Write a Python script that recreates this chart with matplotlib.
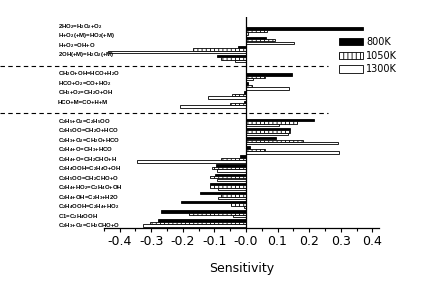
import numpy as np
import matplotlib
matplotlib.use('Agg')
import matplotlib.pyplot as plt
import matplotlib.transforms as mtransforms
from matplotlib.ticker import MultipleLocator

plt.rcParams['mathtext.fontset'] = 'custom'
plt.rcParams['mathtext.rm'] = 'Liberation Sans:bold'
plt.rcParams['mathtext.it'] = 'Liberation Sans:bold'
plt.rcParams['mathtext.default'] = 'rm'
plt.rcParams['hatch.linewidth'] = 0.6

# reactions, top to bottom, in three groups
group1 = ['2HO$_2$=H$_2$O$_2$+O$_2$', 'H+O$_2$(+M)=HO$_2$(+M)',
          'H+O$_2$=OH+O', '2OH(+M)=H$_2$O$_2$(+M)']
group2 = ['CH$_2$O+OH=HCO+H$_2$O', 'HCO+O$_2$=CO+HO$_2$',
          'CH$_3$+O$_2$=CH$_2$O+OH', 'HCO+M=CO+H+M']
group3 = ['C$_2$H$_5$+O$_2$=C$_2$H$_5$OO', 'C$_2$H$_5$OO=CH$_2$O+HCO',
          'C$_2$H$_3$+O$_2$=CH$_2$O+HCO', 'C$_2$H$_4$+O=CH$_3$+HCO',
          'C$_2$H$_4$+O=CH$_2$CHO+H', 'C$_2$H$_4$OOH=C$_2$H$_4$O+OH',
          'C$_2$H$_5$OO=CH$_2$CHO+O', 'C$_2$H$_4$+HO$_2$=C$_2$H$_4$O+OH',
          'C$_2$H$_4$+OH=C$_2$H$_3$+H2O', 'C$_2$H$_4$OOH=C$_2$H$_4$+HO$_2$',
          'C1=C$_2$H$_4$OOH', 'C$_2$H$_3$+O$_2$=CH$_2$CHO+O']

s800 = [0.369, 0.065, -0.024, -0.090,
        0.147, 0.005, -0.005, -0.005,
        0.215, 0.139, 0.094, 0.013, -0.018, -0.095, -0.098, -0.114,
        -0.145, -0.205, -0.270, -0.277]
s1050 = [0.067, 0.093, -0.167, -0.080,
         0.060, 0.020, -0.045, -0.050,
         0.162, 0.141, 0.179, 0.060, -0.079, -0.108, -0.114, -0.114,
         -0.080, -0.047, -0.180, -0.304]
s1300 = [0.005, 0.152, -0.436, -0.033,
         0.023, 0.137, -0.121, -0.210,
         0.105, 0.132, 0.292, 0.295, -0.344, -0.090, -0.090, -0.087,
         -0.087, -0.005, -0.041, -0.325]

series_names = ['800K', '1050K', '1300K']

labels = group1 + group2 + group3
# one empty slot between groups
slots = []
pos = 0
for g in [group1, group2, group3]:
    for _ in g:
        slots.append(pos)
        pos += 1
    pos += 1
slots = np.array(slots, dtype=float)

fig = plt.figure(figsize=(4.25, 2.86), dpi=100)
ax = fig.add_axes([0.244, 0.203, 0.647, 0.737])

h = 0.26
styles = [dict(color='black', edgecolor='black'),
          dict(color='white', edgecolor='black', hatch='||||'),
          dict(color='white', edgecolor='black')]
for k, (vals, st) in enumerate(zip([s800, s1050, s1300], styles)):
    ax.barh(slots + (k - 1) * 0.27, vals, height=h, linewidth=0.6,
            label=series_names[k], **st)

ax.set_xlim(-0.45, 0.42)
ax.set_ylim(21.55, -1.53)
ax.axvline(0, color='black', lw=0.9)
for sp in ['left', 'top', 'right']:
    ax.spines[sp].set_visible(False)
ax.spines['bottom'].set_linewidth(0.9)
ax.set_yticks([])
ax.xaxis.set_minor_locator(MultipleLocator(0.05))
ticks = np.round(np.arange(-0.4, 0.41, 0.1), 1)
ax.set_xticks(ticks)
ax.set_xticklabels(['%.1f' % v for v in ticks])
ax.tick_params(axis='x', which='major', length=3, width=0.8, labelsize=9, pad=2)
ax.tick_params(axis='x', which='minor', length=2, width=0.8)
ax.set_xlabel('Sensitivity', fontsize=9, labelpad=10)

# reaction labels on the left, slightly spread vs. bar groups
trans = mtransforms.blended_transform_factory(fig.transFigure, ax.transData)
for lab, s in zip(labels, slots):
    ax.text(58 / 425, s * 1.042 - 0.55, lab, transform=trans, fontsize=4.3,
            fontweight='bold', family='Liberation Sans', ha='left', va='center')

# dashed separators between groups
for yy in [3.83, 8.97]:
    ax.plot([0, 328 / 425], [yy, yy], transform=trans, color='black',
            lw=0.8, ls=(0, (4, 3)), clip_on=False)

fig.legend(loc='upper left', bbox_to_anchor=(339 / 425, 1 - 37 / 286),
           frameon=False, fontsize=7, handlelength=2.47, handleheight=0.82,
           labelspacing=0.38, handletextpad=0.3, borderpad=0, borderaxespad=0)

fig.savefig('out.png', dpi=100)
